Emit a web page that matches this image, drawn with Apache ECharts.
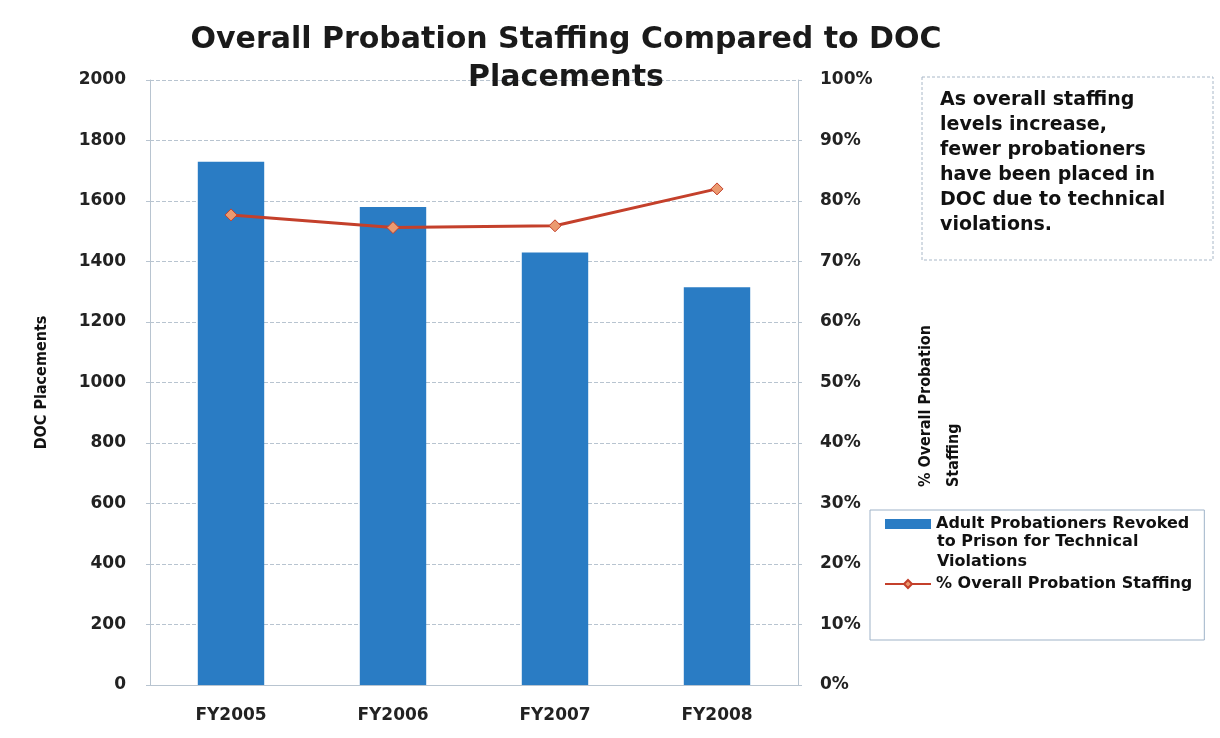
<!DOCTYPE html>
<html><head><meta charset="utf-8">
<script src="https://cdn.jsdelivr.net/npm/echarts@6/dist/echarts.min.js"></script>
<style>html,body{margin:0;padding:0;background:#fff}#c{width:1220px;height:738px}</style>
</head><body><div id="c"></div>
<script>
const categories = ['FY2005','FY2006','FY2007','FY2008'];
const placements = [1730, 1580, 1430, 1315];
const staffingPct = [77.7, 75.6, 75.9, 82.0];
const barName = 'Adult Probationers Revoked to Prison for Technical Violations';
const lineName = '% Overall Probation Staffing';

const chart = echarts.init(document.getElementById('c'));
const fontB = 'DejaVu Sans';
const condensed = '"DejaVu Sans Condensed", "Liberation Sans", sans-serif';
chart.setOption({
  animation:false,
  title:{text:'Overall Probation Staffing Compared to DOC\nPlacements', left:561, textAlign:'center', top:16,
    textStyle:{fontFamily:fontB, fontWeight:'bold', fontSize:30, color:'#1a1a1a', lineHeight:38}},
  grid:{left:150, right:422, top:80, bottom:53},
  legend:{orient:'vertical', left:870, top:510, itemGap:44, itemWidth:46, itemHeight:10,
    borderColor:'#9fb3c8', borderWidth:1, padding:[6,12,48,14],
    data:[{name:barName, icon:'rect'}, {name:lineName}],
    formatter: n => n===barName ? 'Adult Probationers Revoked' : n,
    textStyle:{fontFamily:fontB, fontWeight:'bold', fontSize:16, color:'#111'}},
  xAxis:{type:'category', data:categories,
    axisLine:{lineStyle:{color:'#b8c4d0'}}, axisTick:{show:false},
    axisLabel:{fontFamily:fontB, fontWeight:'bold', fontSize:17, color:'#222', margin:22}},
  yAxis:[
    {type:'value', min:0, max:2000, interval:200,
     name:'DOC Placements', nameLocation:'middle', nameGap:100, nameRotate:90,
     nameTextStyle:{fontFamily:condensed, fontWeight:'bold', fontSize:16, color:'#111'},
     axisLine:{show:true, lineStyle:{color:'#b8c4d0'}}, axisTick:{show:true, length:4, lineStyle:{color:'#b8c4d0'}},
     axisLabel:{fontFamily:fontB, fontWeight:'bold', fontSize:17, color:'#222', margin:24, formatter: v => String(v)},
     splitLine:{lineStyle:{color:'#b8c4d0', type:'dashed'}}},
    {type:'value', min:0, max:100, interval:10,
     axisLine:{show:true, lineStyle:{color:'#b8c4d0'}}, axisTick:{show:true, length:4, lineStyle:{color:'#b8c4d0'}},
     axisLabel:{fontFamily:fontB, fontWeight:'bold', fontSize:17, color:'#222', margin:22, formatter:'{value}%'},
     splitLine:{show:false}}
  ],
  series:[
    {name:barName, type:'bar', data:placements, barWidth:'41%', yAxisIndex:0,
     itemStyle:{color:'#2a7cc4'}},
    {name:lineName, type:'line', data:staffingPct, yAxisIndex:1,
     symbol:'diamond', symbolSize:12,
     lineStyle:{color:'#c4402b', width:3},
     itemStyle:{color:'#eb9a70', borderColor:'#c4402b', borderWidth:1}}
  ],
  graphic:[
    {type:'rect', shape:{x:922, y:77, width:291, height:183},
     style:{fill:'#fff', stroke:'#a9b8c8', lineWidth:1, lineDash:[3,2]}},
    {type:'text', left:940, top:88,
     style:{text:'As overall staffing\nlevels increase,\nfewer probationers\nhave been placed in\nDOC due to technical\nviolations.',
       font:'bold 19px "DejaVu Sans"', fill:'#111', lineHeight:25}},
    {type:'text', left:937, top:532,
     style:{text:'to Prison for Technical\nViolations', font:'bold 16px "DejaVu Sans"', fill:'#111', lineHeight:20}},
    {type:'text', x:912, y:487, rotation:Math.PI/2,
     style:{text:'% Overall Probation\nStaffing', font:'bold 16px ' + condensed, fill:'#111', lineHeight:28, textAlign:'left', textVerticalAlign:'top'}}
  ]
});
</script></body></html>
